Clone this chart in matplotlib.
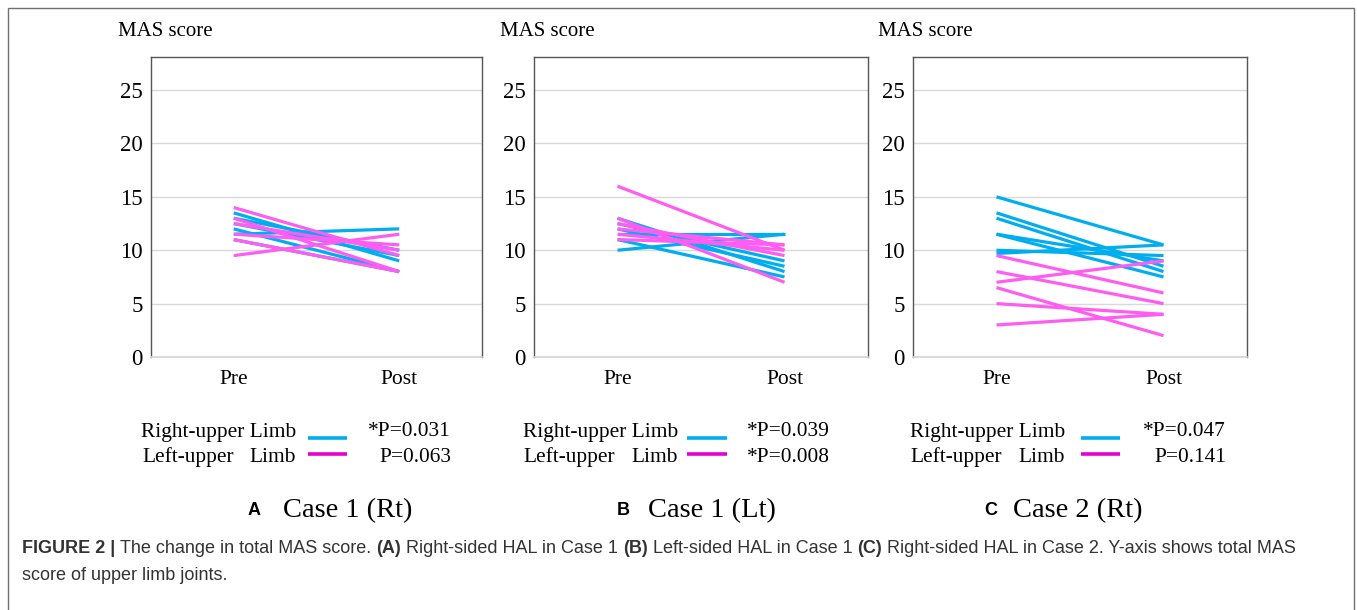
import matplotlib.pyplot as plt
from matplotlib.lines import Line2D
from matplotlib.patches import Rectangle

W, H = 1357, 610

SERIF = 'Liberation Serif'
SANS = 'Liberation Sans'
BLUE = '#00aeef'
PINK = '#ff5cf2'
PINK_LEG = '#e600d2'

phases = ['Pre', 'Post']

# Case 1 (Rt)
a_right_pre = [13.5, 13, 12, 11.5, 11, 12.5]
a_right_post = [9, 10, 8, 12, 8, 9.5]
a_left_pre = [14, 13, 12.5, 11.5, 11, 9.5]
a_left_post = [9.5, 8, 10, 10.5, 8, 11.5]

# Case 1 (Lt)
b_right_pre = [13, 12.5, 12, 11, 11.5, 10]
b_right_post = [8, 9, 8.5, 7.5, 11.5, 11.5]
b_left_pre = [16, 13, 12.5, 12, 11.5, 11]
b_left_post = [10, 7, 9.5, 10.5, 10, 10.5]

# Case 2 (Rt)
c_right_pre = [15, 13.5, 13, 11.5, 11.5, 10, 9.7]
c_right_post = [10.5, 8.5, 8, 9, 7.5, 9.5, 10.5]
c_left_pre = [9.5, 8, 7, 6.5, 5, 3]
c_left_post = [6, 5, 9, 2, 4, 4]

p_right = ['*P=0.031', '*P=0.039', '*P=0.047']
p_left = ['P=0.063', '*P=0.008', 'P=0.141']
letters = ['A', 'B', 'C']
cases = ['Case 1 (Rt)', 'Case 1 (Lt)', 'Case 2 (Rt)']

panels = [
    (a_right_pre, a_right_post, a_left_pre, a_left_post),
    (b_right_pre, b_right_post, b_left_pre, b_left_post),
    (c_right_pre, c_right_post, c_left_pre, c_left_post),
]

# pixel layout of each panel
ax_lr = [(151, 482), (534, 868), (913, 1247)]
leg_x = [(142, 296, 308, 347, 451), (523, 678, 687, 727, 830), (910, 1065, 1081, 1120, 1226)]
title_x = [(248, 283), (617, 648), (984, 1013)]
mas_x = [118, 500, 878]

fig = plt.figure(figsize=(W / 100, H / 100), dpi=100)


def fx(px):
    return px / W


def fy(py):
    return 1 - py / H


ax_top, ax_bot = 57, 357
for i, (rpre, rpost, lpre, lpost) in enumerate(panels):
    l, r = ax_lr[i]
    ax = fig.add_axes([fx(l), fy(ax_bot), (r - l) / W, (ax_bot - ax_top) / H])
    for y0, y1 in zip(rpre, rpost):
        ax.plot([0.5, 1.5], [y0, y1], color=BLUE, lw=2.3, solid_capstyle='butt', zorder=3)
    for y0, y1 in zip(lpre, lpost):
        ax.plot([0.5, 1.5], [y0, y1], color=PINK, lw=2.3, solid_capstyle='butt', zorder=4)
    ax.set_xlim(0, 2)
    ax.set_ylim(0, 28.1)
    ax.set_xticks([0.5, 1.5])
    ax.set_xticklabels(phases, fontfamily=SERIF, fontsize=15.5)
    ax.set_yticks([0, 5, 10, 15, 20, 25])
    ax.set_yticklabels(['0', '5', '10', '15', '20', '25'], fontfamily=SERIF, fontsize=16.5)
    ax.tick_params(axis='x', length=0, pad=9)
    ax.tick_params(axis='y', length=0, pad=6)
    ax.grid(axis='y', color='#d9d9d9', lw=1.0, zorder=0)
    ax.set_axisbelow(True)
    for s in ['top', 'left', 'right']:
        ax.spines[s].set_color('#555555')
        ax.spines[s].set_linewidth(1.0)
    ax.spines['bottom'].set_color('#d4d4d4')
    ax.spines['bottom'].set_linewidth(1.2)

    fig.text(fx(mas_x[i]), fy(31), 'MAS score', fontfamily=SERIF, fontsize=15,
             ha='left', va='center')

    lx, lr_, x0, x1, pr = leg_x[i]
    fig.text(fx(lr_), fy(432), 'Right-upper Limb', fontfamily=SERIF, fontsize=15.4,
             ha='right', va='center')
    fig.text(fx(lx), fy(457), 'Left-upper', fontfamily=SERIF, fontsize=15.4,
             ha='left', va='center')
    fig.text(fx(lr_), fy(457), 'Limb', fontfamily=SERIF, fontsize=15.4,
             ha='right', va='center')
    fig.add_artist(Line2D([fx(x0), fx(x1)], [fy(438), fy(438)], color=BLUE, lw=2.6,
                          solid_capstyle='butt'))
    fig.add_artist(Line2D([fx(x0), fx(x1)], [fy(454), fy(454)], color=PINK_LEG, lw=2.6,
                          solid_capstyle='butt'))
    fig.text(fx(pr), fy(432), p_right[i], fontfamily=SERIF, fontsize=15.4,
             ha='right', va='center')
    fig.text(fx(pr), fy(457), p_left[i], fontfamily=SERIF, fontsize=15.4,
             ha='right', va='center')

    tl, tc = title_x[i]
    fig.text(fx(tl), fy(515), letters[i], fontfamily=SANS, fontweight='bold', fontsize=13,
             ha='left', va='baseline')
    fig.text(fx(tc), fy(517), cases[i], fontfamily=SERIF, fontsize=20.5,
             ha='left', va='baseline')

# caption, built from bold and regular pieces
cap_pieces = [
    ('FIGURE 2 |', 'bold'), ('The change in total MAS score.', 'normal'), ('(A)', 'bold'),
    ('Right-sided HAL in Case 1', 'normal'), ('(B)', 'bold'), ('Left-sided HAL in Case 1', 'normal'),
    ('(C)', 'bold'), ('Right-sided HAL in Case 2. Y-axis shows total MAS', 'normal'),
]
cap_fs = 13
cap_col = '#333333'
renderer = fig.canvas.get_renderer()
x = fx(22)
space = 0.278 * cap_fs * 100 / 72 / W
for txt, wt in cap_pieces:
    t = fig.text(x, fy(553), txt, fontfamily=SANS, fontweight=wt, fontsize=cap_fs,
                 color=cap_col, ha='left', va='baseline')
    bb = t.get_window_extent(renderer)
    x = bb.x1 / W + space
fig.text(fx(22), fy(580), 'score of upper limb joints.', fontfamily=SANS, fontsize=cap_fs,
         color=cap_col, ha='left', va='baseline')

# outer frame
fig.add_artist(Rectangle((fx(8), fy(640)), (1354 - 8) / W, (640 - 8) / H,
                         transform=fig.transFigure, fill=False, ec='#707070', lw=1.0))

fig.savefig('out.png', dpi=100, facecolor='white')
